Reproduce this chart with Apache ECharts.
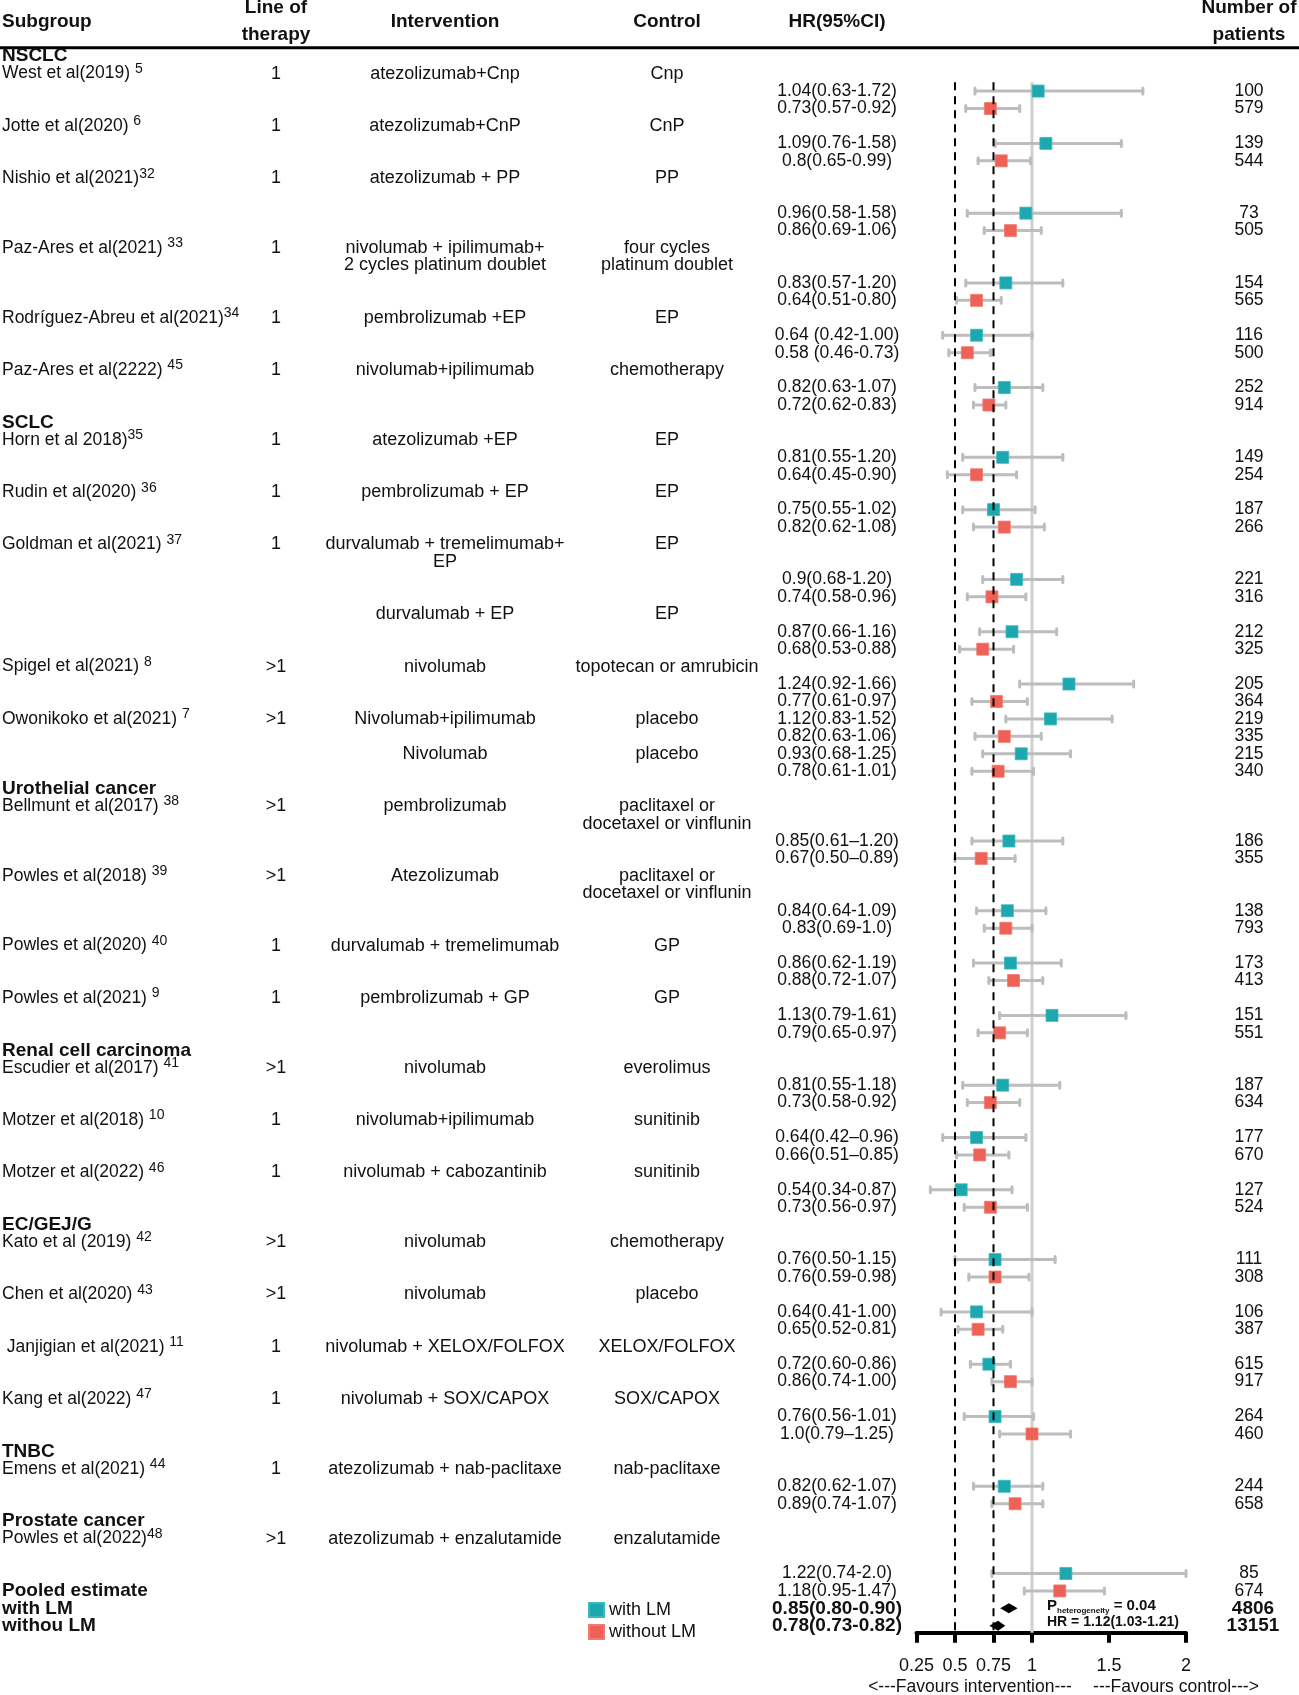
<!DOCTYPE html>
<html>
<head>
<meta charset="utf-8">
<script src="https://cdn.jsdelivr.net/npm/echarts@6/dist/echarts.min.js"></script>
<style>html,body{margin:0;padding:0;background:#fff;}#chart{width:1299px;height:1695px;}</style>
</head>
<body>
<div id="chart"></div>
<script>
// ---------------- DATA ----------------
const headerLabels = ['Subgroup', 'Line of\ntherapy', 'Intervention', 'Control', 'HR(95%CI)', 'Number of\npatients'];

const groupNames = ['NSCLC', 'SCLC', 'Urothelial cancer', 'Renal cell carcinoma', 'EC/GEJ/G', 'TNBC', 'Prostate cancer'];
const groupRows = [0, 21, 42, 57, 67, 80, 84];

const studyNames = ['West et al(2019) ', 'Jotte et al(2020) ', 'Nishio et al(2021)', 'Paz-Ares et al(2021) ', 'Rodríguez-Abreu et al(2021)',
  'Paz-Ares et al(2222) ', 'Horn et al 2018)', 'Rudin et al(2020) ', 'Goldman et al(2021) ', '', 'Spigel et al(2021) ',
  'Owonikoko et al(2021) ', '', 'Bellmunt et al(2017) ', 'Powles et al(2018) ', 'Powles et al(2020) ', 'Powles et al(2021) ',
  'Escudier et al(2017) ', 'Motzer et al(2018) ', 'Motzer et al(2022) ', 'Kato et al (2019) ', 'Chen et al(2020) ',
  ' Janjigian et al(2021) ', 'Kang et al(2022) ', 'Emens et al(2021) ', 'Powles et al(2022)'];
const studyRefs = ['5', '6', '32', '33', '34', '45', '35', '36', '37', '', '8', '7', '', '38', '39', '40', '9', '41', '10', '46', '42', '43', '11', '47', '44', '48'];
const studyRows = [1, 4, 7, 11, 15, 18, 22, 25, 28, 32, 35, 38, 40, 43, 47, 51, 54, 58, 61, 64, 68, 71, 74, 77, 81, 85];
const estimateRows = [2, 5, 9, 13, 16, 19, 23, 26, 30, 33, 36, 38, 40, 45, 49, 52, 55, 59, 62, 65, 69, 72, 75, 78, 82, 87];

const lineOfTherapy = ['1', '1', '1', '1', '1', '1', '1', '1', '1', '', '>1', '>1', '', '>1', '>1', '1', '1', '>1', '1', '1', '>1', '>1', '1', '1', '1', '>1'];
const interventions = ['atezolizumab+Cnp', 'atezolizumab+CnP', 'atezolizumab + PP', 'nivolumab + ipilimumab+\n2 cycles platinum doublet',
  'pembrolizumab +EP', 'nivolumab+ipilimumab', 'atezolizumab +EP', 'pembrolizumab + EP', 'durvalumab + tremelimumab+\nEP',
  'durvalumab + EP', 'nivolumab', 'Nivolumab+ipilimumab', 'Nivolumab', 'pembrolizumab', 'Atezolizumab', 'durvalumab + tremelimumab',
  'pembrolizumab + GP', 'nivolumab', 'nivolumab+ipilimumab', 'nivolumab + cabozantinib', 'nivolumab', 'nivolumab',
  'nivolumab + XELOX/FOLFOX', 'nivolumab + SOX/CAPOX', 'atezolizumab + nab-paclitaxe', 'atezolizumab + enzalutamide'];
const controls = ['Cnp', 'CnP', 'PP', 'four cycles\nplatinum doublet', 'EP', 'chemotherapy', 'EP', 'EP', 'EP', 'EP',
  'topotecan or amrubicin', 'placebo', 'placebo', 'paclitaxel or\ndocetaxel or vinflunin', 'paclitaxel or\ndocetaxel or vinflunin',
  'GP', 'GP', 'everolimus', 'sunitinib', 'sunitinib', 'chemotherapy', 'placebo', 'XELOX/FOLFOX', 'SOX/CAPOX', 'nab-paclitaxe', 'enzalutamide'];

// with LM (teal)
const hrWith = [1.04, 1.09, 0.96, 0.83, 0.64, 0.82, 0.81, 0.75, 0.9, 0.87, 1.24, 1.12, 0.93, 0.85, 0.84, 0.86, 1.13, 0.81, 0.64, 0.54, 0.76, 0.64, 0.72, 0.76, 0.82, 1.22];
const loWith = [0.63, 0.76, 0.58, 0.57, 0.42, 0.63, 0.55, 0.55, 0.68, 0.66, 0.92, 0.83, 0.68, 0.61, 0.64, 0.62, 0.79, 0.55, 0.42, 0.34, 0.50, 0.41, 0.60, 0.56, 0.62, 0.74];
const hiWith = [1.72, 1.58, 1.58, 1.20, 1.00, 1.07, 1.20, 1.02, 1.20, 1.16, 1.66, 1.52, 1.25, 1.20, 1.09, 1.19, 1.61, 1.18, 0.96, 0.87, 1.15, 1.00, 0.86, 1.01, 1.07, 2.0];
const nWith = [100, 139, 73, 154, 116, 252, 149, 187, 221, 212, 205, 219, 215, 186, 138, 173, 151, 187, 177, 127, 111, 106, 615, 264, 244, 85];
const ciTextWith = ['1.04(0.63-1.72)', '1.09(0.76-1.58)', '0.96(0.58-1.58)', '0.83(0.57-1.20)', '0.64 (0.42-1.00)', '0.82(0.63-1.07)',
  '0.81(0.55-1.20)', '0.75(0.55-1.02)', '0.9(0.68-1.20)', '0.87(0.66-1.16)', '1.24(0.92-1.66)', '1.12(0.83-1.52)', '0.93(0.68-1.25)',
  '0.85(0.61–1.20)', '0.84(0.64-1.09)', '0.86(0.62-1.19)', '1.13(0.79-1.61)', '0.81(0.55-1.18)', '0.64(0.42–0.96)', '0.54(0.34-0.87)',
  '0.76(0.50-1.15)', '0.64(0.41-1.00)', '0.72(0.60-0.86)', '0.76(0.56-1.01)', '0.82(0.62-1.07)', '1.22(0.74-2.0)'];

// without LM (red)
const hrWithout = [0.73, 0.8, 0.86, 0.64, 0.58, 0.72, 0.64, 0.82, 0.74, 0.68, 0.77, 0.82, 0.78, 0.67, 0.83, 0.88, 0.79, 0.73, 0.66, 0.73, 0.76, 0.65, 0.86, 1.0, 0.89, 1.18];
const loWithout = [0.57, 0.65, 0.69, 0.51, 0.46, 0.62, 0.45, 0.62, 0.58, 0.53, 0.61, 0.63, 0.61, 0.50, 0.69, 0.72, 0.65, 0.58, 0.51, 0.56, 0.59, 0.52, 0.74, 0.79, 0.74, 0.95];
const hiWithout = [0.92, 0.99, 1.06, 0.80, 0.73, 0.83, 0.90, 1.08, 0.96, 0.88, 0.97, 1.06, 1.01, 0.89, 1.0, 1.07, 0.97, 0.92, 0.85, 0.97, 0.98, 0.81, 1.00, 1.25, 1.07, 1.47];
const nWithout = [579, 544, 505, 565, 500, 914, 254, 266, 316, 325, 364, 335, 340, 355, 793, 413, 551, 634, 670, 524, 308, 387, 917, 460, 658, 674];
const ciTextWithout = ['0.73(0.57-0.92)', '0.8(0.65-0.99)', '0.86(0.69-1.06)', '0.64(0.51-0.80)', '0.58 (0.46-0.73)', '0.72(0.62-0.83)',
  '0.64(0.45-0.90)', '0.82(0.62-1.08)', '0.74(0.58-0.96)', '0.68(0.53-0.88)', '0.77(0.61-0.97)', '0.82(0.63-1.06)', '0.78(0.61-1.01)',
  '0.67(0.50–0.89)', '0.83(0.69-1.0)', '0.88(0.72-1.07)', '0.79(0.65-0.97)', '0.73(0.58-0.92)', '0.66(0.51–0.85)', '0.73(0.56-0.97)',
  '0.76(0.59-0.98)', '0.65(0.52-0.81)', '0.86(0.74-1.00)', '1.0(0.79–1.25)', '0.89(0.74-1.07)', '1.18(0.95-1.47)'];

// pooled
const pooledLabels = ['Pooled estimate', 'with LM', 'withou LM'];
const pooledRows = [88, 89, 90];
const pooledHR = [0.85, 0.78];
const pooledLo = [0.80, 0.73];
const pooledHi = [0.90, 0.82];
const pooledText = ['0.85(0.80-0.90)', '0.78(0.73-0.82)'];
const pooledN = [4806, 13151];
const heterogeneityP = '0.04';
const heterogeneityHR = 'HR = 1.12(1.03-1.21)';

const refLines = [0.5, 0.75];
const nullLine = 1;
const axisTicks = [0.25, 0.5, 0.75, 1, 1.5, 2];
const favoursLabels = ['<---Favours intervention---', '---Favours control--->'];

// ---------------- LAYOUT / STYLE ----------------
const FONT = '"Liberation Sans", Arial, Helvetica, sans-serif';
const TEAL = '#1DA8B0';
const RED = '#EE6157';
const ROW0 = 56.2, ROWH = 17.44;
const YMIN = -3;
const AXIS_Y = 90.4;
const COL = { sub: 2, line: 276, interv: 445, ctrl: 667, hr: 837, n: 1249 };

const RICH = {
  m: { fontFamily: FONT, fontSize: 17.5, lineHeight: 23, fill: '#111' },
  s: { fontFamily: FONT, fontSize: 14, lineHeight: 14, verticalAlign: 'top', fill: '#111' },
  pb: { fontFamily: FONT, fontSize: 15, fontWeight: 'bold', lineHeight: 19, fill: '#111' },
  pbs: { fontFamily: FONT, fontSize: 8, fontWeight: 'bold', lineHeight: 10, verticalAlign: 'bottom', fill: '#111' }
};

const textItems = [];
function addText(x, row, text, opt) {
  const o = Object.assign({ size: 18, weight: 'normal', align: 'center' }, opt || {});
  String(text).split('\n').forEach((ln, k) => {
    textItems.push({ x: x, y: row + k * (o.step || 1), text: ln, size: o.size, weight: o.weight, align: o.align, rich: o.rich });
  });
}

// header
addText(COL.sub, -2, headerLabels[0], { size: 19, weight: 'bold', align: 'left' });
addText(COL.line, -2.75, headerLabels[1], { size: 19, weight: 'bold', step: 1.5 });
addText(COL.interv, -2, headerLabels[2], { size: 19, weight: 'bold' });
addText(COL.ctrl, -2, headerLabels[3], { size: 19, weight: 'bold' });
addText(COL.hr, -2, headerLabels[4], { size: 19, weight: 'bold' });
addText(COL.n, -2.75, headerLabels[5], { size: 19, weight: 'bold', step: 1.5 });

groupNames.forEach((g, i) => addText(COL.sub, groupRows[i], g, { size: 19, weight: 'bold', align: 'left' }));

studyNames.forEach((s, i) => {
  if (s || studyRefs[i]) {
    const txt = '{m|' + s + '}' + (studyRefs[i] ? '{s|' + studyRefs[i] + '}' : '');
    addText(COL.sub, studyRows[i], txt, { align: 'left', rich: true });
  }
  if (lineOfTherapy[i]) addText(COL.line, studyRows[i], lineOfTherapy[i]);
  addText(COL.interv, studyRows[i], interventions[i]);
  addText(COL.ctrl, studyRows[i], controls[i]);
  addText(COL.hr, estimateRows[i], ciTextWith[i], { size: 17.5 });
  addText(COL.hr, estimateRows[i] + 1, ciTextWithout[i], { size: 17.5 });
  addText(COL.n, estimateRows[i], String(nWith[i]), { size: 17.5 });
  addText(COL.n, estimateRows[i] + 1, String(nWithout[i]), { size: 17.5 });
});

pooledLabels.forEach((p, i) => addText(COL.sub, pooledRows[i], p, { size: 19, weight: 'bold', align: 'left' }));
pooledText.forEach((t, i) => addText(COL.hr, pooledRows[i + 1], t, { size: 19, weight: 'bold' }));
pooledN.forEach((n, i) => addText(COL.n + 4, pooledRows[i + 1], String(n), { size: 19, weight: 'bold' }));
addText(1047, 88.85, '{pb|P}{pbs|heterogeneity}{pb| = ' + heterogeneityP + '}', { align: 'left', rich: true });
addText(1047, 89.8, heterogeneityHR, { size: 14, weight: 'bold', align: 'left' });
addText(970, 93.5, favoursLabels[0], { size: 17.5 });
addText(1176, 93.5, favoursLabels[1], { size: 17.5 });

// ---------------- CHART ----------------
const chart = echarts.init(document.getElementById('chart'), null, { renderer: 'canvas' });

function renderText(params, api) {
  const t = textItems[params.dataIndex];
  const p = api.coord([api.value(0), api.value(1)]);
  const style = { text: t.text, fill: '#111', fontFamily: FONT, fontSize: t.size, fontWeight: t.weight, align: t.align, verticalAlign: 'middle' };
  if (t.rich) style.rich = RICH;
  return { type: 'text', x: p[0], y: p[1], style: style, silent: true };
}

function renderCI(params, api) {
  const lo = api.value(0), hi = api.value(1), y = api.value(2);
  const a = api.coord([lo, y]), b = api.coord([hi, y]);
  const st = { stroke: '#BDBDBD', lineWidth: 3, lineCap: 'round' };
  return {
    type: 'group', children: [
      { type: 'line', shape: { x1: a[0], y1: a[1], x2: b[0], y2: b[1] }, style: st },
      { type: 'line', shape: { x1: a[0], y1: a[1] - 3, x2: a[0], y2: a[1] + 3 }, style: st },
      { type: 'line', shape: { x1: b[0], y1: b[1] - 3, x2: b[0], y2: b[1] + 3 }, style: st }
    ]
  };
}

function renderDiamond(params, api) {
  const hr = api.value(0), lo = api.value(1), hi = api.value(2), y = api.value(3);
  const c = api.coord([hr, y]), l = api.coord([lo, y]), r = api.coord([hi, y]);
  const h = 5;
  return { type: 'polygon', shape: { points: [[l[0] - 1, c[1]], [c[0], c[1] - h], [r[0] + 1, c[1]], [c[0], c[1] + h]] }, style: { fill: '#000' } };
}

const ciData = [];
hrWith.forEach((v, i) => {
  ciData.push([loWith[i], hiWith[i], estimateRows[i]]);
  ciData.push([loWithout[i], hiWithout[i], estimateRows[i] + 1]);
});

const gridTop = ROW0 + YMIN * ROWH;
const gridBottom0 = 1695 - (ROW0 + AXIS_Y * ROWH);
const ymax1 = (1695 - ROW0) / ROWH;

const option = {
  animation: false,
  backgroundColor: '#fff',
  grid: [
    { left: 916.5, right: 113, top: gridTop, bottom: gridBottom0, containLabel: false },
    { left: 0, right: 0, top: gridTop, bottom: 0, containLabel: false }
  ],
  xAxis: [
    {
      gridIndex: 0, type: 'value', min: 0.25, max: 2, position: 'bottom',
      axisLine: { show: true, onZero: false, lineStyle: { color: '#000', width: 4 } },
      axisTick: { show: true, customValues: axisTicks, length: 10, lineStyle: { color: '#000', width: 4 } },
      axisLabel: { show: true, customValues: axisTicks, color: '#111', fontSize: 18, fontFamily: FONT, margin: 24 },
      splitLine: { show: false }
    },
    { gridIndex: 1, type: 'value', min: 0, max: 1299, show: false }
  ],
  yAxis: [
    { gridIndex: 0, type: 'value', inverse: true, min: YMIN, max: AXIS_Y, show: false },
    { gridIndex: 1, type: 'value', inverse: true, min: YMIN, max: ymax1, show: false }
  ],
  legend: {
    orient: 'vertical', left: 588, top: 1601, padding: 0, itemGap: 4,
    itemWidth: 15, itemHeight: 14, icon: 'rect',
    data: ['with LM', 'without LM'],
    textStyle: { fontFamily: FONT, fontSize: 18, color: '#111' },
    selectedMode: false
  },
  series: [
    {
      name: 'header rule', type: 'line', xAxisIndex: 1, yAxisIndex: 1, symbol: 'none', silent: true,
      data: [[0, -0.49], [1299, -0.49]], lineStyle: { color: '#000', width: 3 }, z: 1
    },
    {
      name: 'null', type: 'line', xAxisIndex: 0, yAxisIndex: 0, symbol: 'none', silent: true,
      data: [[nullLine, 1.5], [nullLine, AXIS_Y]], lineStyle: { color: '#CFCFCF', width: 3 }, z: 1
    },
    {
      name: 'ci', type: 'custom', xAxisIndex: 0, yAxisIndex: 0, renderItem: renderCI, silent: true,
      encode: { x: [0, 1], y: 2 }, data: ciData, z: 2
    },
    {
      name: 'with LM', type: 'scatter', xAxisIndex: 0, yAxisIndex: 0, symbol: 'rect', symbolSize: 12, silent: true,
      itemStyle: { color: TEAL, borderColor: '#3BB8BF', borderWidth: 0.8, opacity: 1 },
      data: hrWith.map((v, i) => [v, estimateRows[i]]), z: 3
    },
    {
      name: 'without LM', type: 'scatter', xAxisIndex: 0, yAxisIndex: 0, symbol: 'rect', symbolSize: 12, silent: true,
      itemStyle: { color: RED, borderColor: '#F27A70', borderWidth: 0.8, opacity: 1 },
      data: hrWithout.map((v, i) => [v, estimateRows[i] + 1]), z: 3
    },
    {
      name: 'pooled', type: 'custom', xAxisIndex: 0, yAxisIndex: 0, renderItem: renderDiamond, silent: true,
      encode: { x: [0, 1, 2], y: 3 },
      data: pooledHR.map((v, i) => [v, pooledLo[i], pooledHi[i], pooledRows[i + 1]]), z: 3
    }
  ].concat(refLines.map(v => ({
    name: 'ref' + v, type: 'line', xAxisIndex: 0, yAxisIndex: 0, symbol: 'none', silent: true,
    data: [[v, 1.5], [v, AXIS_Y]], lineStyle: { color: '#000', width: 2, type: [8, 6] }, z: 4
  }))).concat([{
    name: 'texts', type: 'custom', xAxisIndex: 1, yAxisIndex: 1, renderItem: renderText, silent: true,
    encode: { x: 0, y: 1 }, data: textItems.map(t => [t.x, t.y]), z: 5, clip: false
  }])
};

chart.setOption(option);
</script>
</body>
</html>
